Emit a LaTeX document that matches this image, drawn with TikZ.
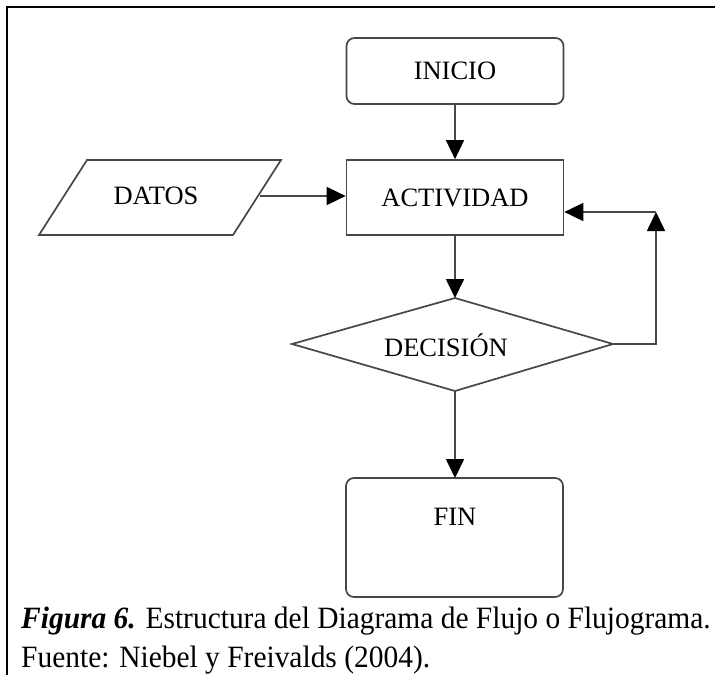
\documentclass[tikz,border=0pt]{standalone}
\usepackage{fontspec}
\setmainfont{Liberation Serif}
% narrow setting of the caption face
\newfontfamily\capfont[FakeStretch=0.95]{Liberation Serif}
\usetikzlibrary{arrows.meta,shapes.geometric,calc}
\begin{document}
\begin{tikzpicture}[x=1pt,y=-1pt,
  label font/.style={font=\fontsize{26.5}{26.5}\selectfont},
  shape line/.style={draw=black!72,line width=1.7pt},
  terminal/.style={shape line,rounded corners=8pt,minimum width=217pt,inner sep=0pt,label font},
  process/.style={shape line,minimum width=217pt,minimum height=75pt,inner sep=0pt,label font},
  flow/.style={draw=black!72,line width=1.7pt,-{Triangle[length=19pt,width=18pt,color=black]}},
  frame line/.style={line width=2.8pt,draw=black},
  caption/.style={anchor=base west,inner sep=0pt,font=\capfont\fontsize{31}{31}\selectfont}]
\useasboundingbox (0,0) rectangle (715,675);
\fill[white] (0,0) rectangle (715,675);
% page frame: top and left rules
\draw[frame line] (7,675) -- (7,7) -- (715,7);
% start terminal
\node[terminal,minimum height=66pt] (ini) at (455,71) {INICIO};
% activity box
\node[process] (act) at (455,197.5) {ACTIVIDAD};
% input parallelogram
\draw[shape line] (87,160) -- (281,160) -- (233,235) -- (39,235) -- cycle;
\node[label font,inner sep=0pt] (dat) at (156,196) {DATOS};
\coordinate (datr) at (260,196);
% decision diamond
\draw[shape line] (455,298) -- (613,344) -- (455,391) -- (292,344) -- cycle;
\coordinate (dtop) at (455,298);
\coordinate (dright) at (613,344);
\coordinate (dbot) at (455,391);
\node[label font,inner sep=0pt] (dec) at (446,345) {DECISIÓN};
% end terminal, label near its top
\draw[shape line,rounded corners=8pt] (346,478) rectangle (563,597);
\node[label font,inner sep=0pt] (fin) at (455,517) {FIN};
\coordinate (fintop) at (455,478);
% connectors
\draw[flow] (ini.south) -- (act.north);
\draw[flow] (datr) -- (act.west |- datr);
\draw[flow] (act.south) -- (dtop);
\coordinate (loopc) at (656,344);
\coordinate (loopt) at (656,212);
\draw[flow] (dright) -- (loopc) -- (loopt);
\draw[flow] (loopt) -- (act.east |- loopt);
\draw[flow] (dbot) -- (fintop);
% caption
\node[caption] (cap) at (21,628) {\textbf{\textit{Figura 6.}} Estructura del Diagrama de Flujo o Flujograma.};
\node[caption] (src) at (21,667) {Fuente: Niebel y Freivalds (2004).};
\end{tikzpicture}
\end{document}
